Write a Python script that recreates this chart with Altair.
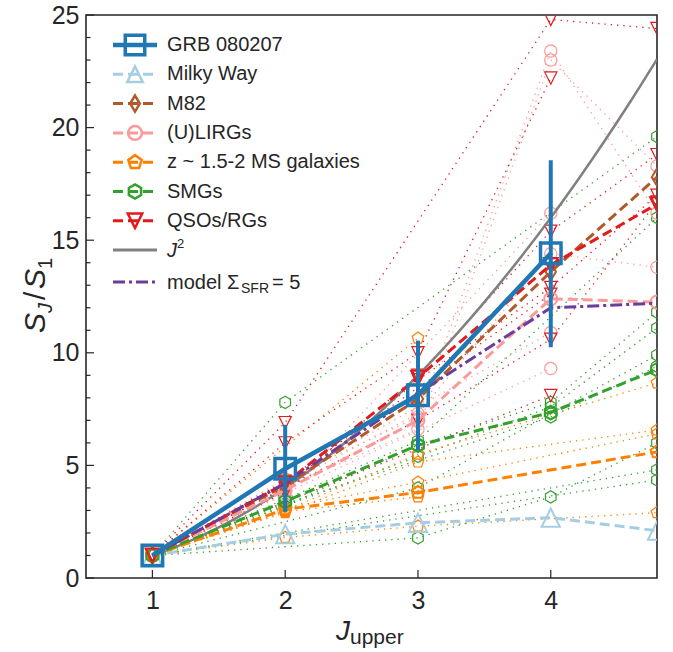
import altair as alt
import pandas as pd

# ---------------- data ----------------
J_LEVELS = [1, 2, 3, 4, 4.8]

GRB_J = [1, 2, 3, 4]
GRB_VAL = [1.0, 4.85, 8.12, 14.42]
GRB_ERR_J = [2, 3, 4]
GRB_ERR_LO = [2.94, 5.68, 10.25]
GRB_ERR_HI = [6.8, 10.54, 18.55]

MW_VAL = [1.0, 1.95, 2.45, 2.68, 2.1]
M82_VAL = [1.0, 4.1, 7.95, 13.6, 17.8]
ULIRG_MED = [1.0, 3.9, 7.0, 12.4, 12.25]
MS_MED = [1.0, 3.05, 3.8, None, 5.6]
SMG_MED = [1.0, 3.4, 5.9, 7.35, 9.25]
QSO_MED = [1.0, 4.2, 8.9, 13.9, 16.6]
MODEL_VAL = [1.0, 4.2, 8.2, 12.0, 12.2]

J2_X = [1.0, 1.2, 1.4, 1.6, 1.8, 2.0, 2.2, 2.4, 2.6, 2.8, 3.0, 3.2, 3.4,
        3.6, 3.8, 4.0, 4.2, 4.4, 4.6, 4.8]
J2_Y = [x * x for x in J2_X]

QSO_IND = [
    [1, 6.9, None, 24.8, 24.4],
    [1, 6.0, 10.0, 22.2, None],
    [1, 4.0, 9.0, 15.4, 18.8],
    [1, 3.8, 8.8, 12.9, 17.0],
    [1, None, 7.0, 10.6, 16.7],
    [1, 4.3, None, 12.6, None],
    [1, None, None, 8.1, None],
]
ULIRG_IND = [
    [1, 4.4, 7.15, 23.4, 16.2],
    [1, 4.0, 6.6, 23.0, 18.3],
    [1, 3.7, None, 16.2, None],
    [1, None, 7.3, 14.4, 13.8],
    [1, None, None, 10.9, None],
    [1, None, None, 9.3, None],
]
SMG_IND = [
    [1, 7.8, None, None, 19.6],
    [1, 3.5, 6.1, None, 16.0],
    [1, 3.2, 5.9, 7.8, 11.8],
    [1, None, 5.4, 7.6, 11.1],
    [1, None, 4.0, 7.3, 9.9],
    [1, 3.3, None, 7.15, 9.4],
    [1, None, 1.78, 3.6, 6.0],
    [1, None, None, None, 4.8],
    [1, None, None, None, 4.35],
]
MS_IND = [
    [1, None, 10.65, None, None],
    [1, 3.0, 5.5, None, 8.66],
    [1, 2.9, 5.15, None, 6.57],
    [1, 3.1, 4.26, None, 6.4],
    [1, 2.95, 3.6, None, None],
    [1, 1.8, 2.3, None, 2.9],
]

X_TICKS = [1, 2, 3, 4]
Y_TICKS = [0, 5, 10, 15, 20, 25]

LEGEND_LABELS = ["GRB 080207", "Milky Way", "M82", "(U)LIRGs",
                 "z ~ 1.5-2 MS galaxies", "SMGs", "QSOs/RGs"]

# ---------------- style ----------------
FONT = "Liberation Sans"
AX = "#262626"
GRB_C = "#1f77b4"
MW_C = "#a6cee3"
M82_C = "#b15928"
ULIRG_C = "#fb9a99"
MS_C = "#ff7f00"
SMG_C = "#33a02c"
QSO_C = "#e31a1c"
J2_C = "#808080"
MOD_C = "#6a3d9a"

SQUARE = "M-1,-1L1,-1L1,1L-1,1Z"
TRI_UP = "M0,-1L1,1L-1,1Z"
TRI_DOWN = "M0,1L1,-1L-1,-1Z"
THIN_DIAMOND = "M0,-1L0.6,0L0,1L-0.6,0Z"
CIRCLE = "circle"
PENTAGON = "M0,-1L0.951,-0.309L0.588,0.809L-0.588,0.809L-0.951,-0.309Z"
HEXAGON = "M0,-1L0.866,-0.5L0.866,0.5L0,1L-0.866,0.5L-0.866,-0.5Z"

W, H = 571, 563
XS = alt.Scale(domain=[0.5, 4.8], nice=False, zero=False)
YS = alt.Scale(domain=[0, 25], nice=False, zero=False)
XAX = alt.Axis(values=X_TICKS, ticks=False, domain=False, grid=False, labelFontSize=25, labelFont=FONT,
               labelColor=AX, labelPadding=10, title=None)
YAX = alt.Axis(values=Y_TICKS, ticks=False, domain=False, grid=False, labelFontSize=25, labelFont=FONT,
               labelColor=AX, labelPadding=7, title=None)


def series_df(vals, obj="a"):
    rows = [{"J": j, "v": v, "obj": obj} for j, v in zip(J_LEVELS, vals) if v is not None]
    return pd.DataFrame(rows)


def ind_df(lists):
    return pd.concat([series_df(l, f"o{i}") for i, l in enumerate(lists)], ignore_index=True)


def X(f="J"):
    return alt.X(f"{f}:Q", scale=XS, axis=XAX)


def Y(f="v"):
    return alt.Y(f"{f}:Q", scale=YS, axis=YAX)


def xy():
    return dict(x=X(), y=Y())


layers = []

# axes ticks (inward)
yt = pd.DataFrame({"v": list(range(0, 26))})
layers.append(alt.Chart(yt[yt.v % 5 != 0]).mark_rule(color=AX, strokeWidth=1.2).encode(
    y=Y(), x=alt.value(0), x2=alt.value(4.5)))
layers.append(alt.Chart(yt[yt.v % 5 == 0]).mark_rule(color=AX, strokeWidth=1.2).encode(
    y=Y(), x=alt.value(0), x2=alt.value(8)))
layers.append(alt.Chart(pd.DataFrame({"J": X_TICKS})).mark_rule(color=AX, strokeWidth=1.2).encode(
    x=X(), y=alt.value(H), y2=alt.value(H - 8)))

# individual objects (dotted)
for lists, color, shape in [(SMG_IND, SMG_C, HEXAGON), (MS_IND, MS_C, PENTAGON),
                            (ULIRG_IND, ULIRG_C, CIRCLE), (QSO_IND, QSO_C, TRI_DOWN)]:
    df = ind_df(lists)
    layers.append(alt.Chart(df).mark_line(color=color, strokeWidth=1.3, strokeDash=[1.3, 5], clip=True)
                  .encode(**xy(), detail="obj:N", order="J:Q"))
    layers.append(alt.Chart(df).mark_point(shape=shape, color=color, filled=False, size=150,
                                           strokeWidth=1.2, opacity=1, clip=True).encode(**xy()))

# J^2
layers.append(alt.Chart(pd.DataFrame({"J": J2_X, "v": J2_Y})).mark_line(
    color=J2_C, strokeWidth=2.5, interpolate="monotone", clip=True).encode(**xy()))

# medians
for vals, color, shape, size in [(MW_VAL, MW_C, TRI_UP, 330), (M82_VAL, M82_C, THIN_DIAMOND, 300),
                                 (ULIRG_MED, ULIRG_C, CIRCLE, 170), (MS_MED, MS_C, PENTAGON, 180),
                                 (SMG_MED, SMG_C, HEXAGON, 190), (QSO_MED, QSO_C, TRI_DOWN, 190)]:
    df = series_df(vals)
    layers.append(alt.Chart(df).mark_line(color=color, strokeWidth=3, strokeDash=[10, 5], clip=True)
                  .encode(**xy()))
    layers.append(alt.Chart(df).mark_point(shape=shape, color=color, filled=False, size=size,
                                           strokeWidth=2, opacity=1, clip=True).encode(**xy()))

# model
layers.append(alt.Chart(series_df(MODEL_VAL)).mark_line(color=MOD_C, strokeWidth=3,
                                                        strokeDash=[12, 4, 3, 4], clip=True).encode(**xy()))

# GRB
grb = pd.DataFrame({"J": GRB_J, "v": GRB_VAL})
err = pd.DataFrame({"J": GRB_ERR_J, "lo": GRB_ERR_LO, "hi": GRB_ERR_HI})
layers.append(alt.Chart(grb).mark_line(color=GRB_C, strokeWidth=4.5, clip=True).encode(**xy()))
layers.append(alt.Chart(err).mark_rule(color=GRB_C, strokeWidth=4).encode(
    x=X(), y=Y("lo"), y2="hi:Q"))
layers.append(alt.Chart(grb).mark_point(shape=SQUARE, color=GRB_C, filled=False, size=420,
                                        strokeWidth=3.5, opacity=1, clip=True).encode(**xy()))

# ---------------- legend ----------------
one = pd.DataFrame({"a": [1]})
rows = [30 + 29.3 * i for i in range(8)] + [267]
leg_styles = [
    (GRB_C, 4.5, None, SQUARE, 380, 3.5),
    (MW_C, 3, [10, 5], TRI_UP, 240, 2.5),
    (M82_C, 3, [10, 5], THIN_DIAMOND, 260, 2.5),
    (ULIRG_C, 3, [10, 5], CIRCLE, 190, 2.5),
    (MS_C, 3, [10, 5], PENTAGON, 200, 2.5),
    (SMG_C, 3, [10, 5], HEXAGON, 200, 2.5),
    (QSO_C, 3, [10, 5], TRI_DOWN, 210, 2.5),
]
LFS = 20
LX0, LX1, LXM, LXT = 27, 71, 49, 81
for i, (lab, st) in enumerate(zip(LEGEND_LABELS, leg_styles)):
    color, lw, dash, shape, size, sw = st
    kw = dict(color=color, strokeWidth=lw)
    if dash:
        kw["strokeDash"] = dash
    layers.append(alt.Chart(one).mark_rule(**kw).encode(
        x=alt.value(LX0), x2=alt.value(LX1), y=alt.value(rows[i])))
    layers.append(alt.Chart(one).mark_point(shape=shape, color=color, filled=False, size=size,
                                            strokeWidth=sw, opacity=1).encode(
        x=alt.value(LXM), y=alt.value(rows[i])))
    layers.append(alt.Chart(one).mark_text(align="left", baseline="middle", fontSize=LFS, font=FONT,
                                           color=AX).encode(
        x=alt.value(LXT), y=alt.value(rows[i]), text=alt.value(lab)))

# J^2 legend
layers.append(alt.Chart(one).mark_rule(color=J2_C, strokeWidth=3).encode(
    x=alt.value(LX0), x2=alt.value(LX1), y=alt.value(rows[7])))
layers.append(alt.Chart(one).mark_text(align="left", baseline="alphabetic", fontSize=LFS, font=FONT,
                                       fontStyle="italic", color=AX).encode(
    x=alt.value(LXT), y=alt.value(rows[7] + 7), text=alt.value("J")))
layers.append(alt.Chart(one).mark_text(align="left", baseline="alphabetic", fontSize=13, font=FONT,
                                       color=AX).encode(
    x=alt.value(LXT + 10), y=alt.value(rows[7] - 2), text=alt.value("2")))
# model legend
layers.append(alt.Chart(one).mark_rule(color=MOD_C, strokeWidth=3, strokeDash=[12, 4, 3, 4]).encode(
    x=alt.value(LX0), x2=alt.value(LX1), y=alt.value(rows[8])))
layers.append(alt.Chart(one).mark_text(align="left", baseline="alphabetic", fontSize=LFS, font=FONT,
                                       color=AX).encode(
    x=alt.value(LXT), y=alt.value(rows[8] + 7), text=alt.value("model Σ")))
layers.append(alt.Chart(one).mark_text(align="left", baseline="alphabetic", fontSize=14, font=FONT,
                                       color=AX).encode(
    x=alt.value(LXT + 74), y=alt.value(rows[8] + 11), text=alt.value("SFR")))
layers.append(alt.Chart(one).mark_text(align="left", baseline="alphabetic", fontSize=LFS, font=FONT,
                                       color=AX).encode(
    x=alt.value(LXT + 105), y=alt.value(rows[8] + 7), text=alt.value("= 5")))

# ---------------- axis titles ----------------
layers.append(alt.Chart(one).mark_text(align="left", baseline="alphabetic", fontSize=28, font=FONT,
                                       fontStyle="italic", color=AX).encode(
    x=alt.value(250), y=alt.value(625), text=alt.value("J")))
layers.append(alt.Chart(one).mark_text(align="left", baseline="alphabetic", fontSize=21, font=FONT,
                                       color=AX).encode(
    x=alt.value(264), y=alt.value(629), text=alt.value("upper")))

YT_X = -41
for txt, ypos, size, style, dx in [("S", 318, 30, "italic", 0), ("J", 298, 20, "italic", 7),
                                   ("/", 285, 30, "normal", 0), ("S", 274, 30, "italic", 0),
                                   ("1", 254, 20, "normal", 7)]:
    layers.append(alt.Chart(one).mark_text(align="left", baseline="alphabetic", fontSize=size, font=FONT,
                                           fontStyle=style, angle=270, color=AX).encode(
        x=alt.value(YT_X + dx), y=alt.value(ypos), text=alt.value(txt)))

chart = alt.layer(*layers).properties(
    width=W, height=H, autosize="none",
    padding={"left": 86, "top": 15, "right": 16, "bottom": 74},
).configure_view(stroke=AX, strokeWidth=1.6)

chart.save("out.html", embed_options={"renderer": "svg", "actions": False})
